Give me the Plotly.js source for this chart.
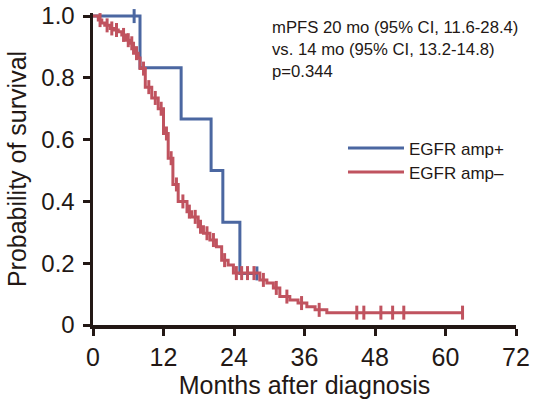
<!DOCTYPE html>
<html>
<head>
<meta charset="utf-8">
<script src="https://cdn.plot.ly/plotly-3.0.1.min.js"></script>
<style>html,body{margin:0;padding:0;background:#fff;}#chart{width:537px;height:406px;}</style>
</head>
<body>
<div id="chart"></div>
<script>
// EGFR amp+ (blue) Kaplan-Meier steps
var ampPosTimes = [0, 8.0, 15.0, 20.1, 22.1, 25.0];
var ampPosSurv  = [1.0, 0.833, 0.667, 0.5, 0.333, 0.167];
var ampPosEnd   = 27.9;
var ampPosCensor = [7.0, 27.9];

// EGFR amp- (red) Kaplan-Meier steps
var ampNegTimes = [0, 0.9, 1.5, 2.0, 2.9, 3.5, 4.3, 4.9, 5.7, 6.3, 6.9, 7.7, 8.0, 8.9, 10.0, 11.1, 12.0, 12.8, 13.6, 14.5, 16.0, 16.8, 17.9, 18.8, 19.9, 21.0, 21.9, 23.0, 23.9, 28.4, 29.6, 30.7, 31.8, 33.5, 34.9, 36.4, 37.8, 39.8];
var ampNegSurv  = [1.0, 0.987, 0.978, 0.97, 0.96, 0.955, 0.949, 0.939, 0.922, 0.912, 0.88, 0.864, 0.83, 0.77, 0.735, 0.70, 0.62, 0.54, 0.455, 0.40, 0.367, 0.35, 0.318, 0.297, 0.275, 0.253, 0.21, 0.194, 0.168, 0.146, 0.136, 0.12, 0.092, 0.081, 0.071, 0.059, 0.049, 0.04];
var ampNegEnd   = 63.0;
var ampNegCensor = [1.2, 2.4, 3.2, 4.0, 5.2, 6.0, 6.6, 7.4, 8.6, 9.5, 10.6, 11.6, 12.5, 13.3, 14.2, 15.3, 16.4, 17.4, 18.3, 19.4, 20.5, 22.4, 24.4, 25.3, 26.3, 27.4, 29.0, 31.2, 33.0, 35.5, 38.5, 44.9, 46.1, 49.0, 51.0, 52.9, 62.9];

var xTicks = [0, 12, 24, 36, 48, 60, 72];
var yTicks = [0, 0.2, 0.4, 0.6, 0.8, 1.0];
var yTickText = ['0', '0.2', '0.4', '0.6', '0.8', '1.0'];
var seriesNames = ['EGFR amp+', 'EGFR amp\u2013'];
var annotationLines = ['mPFS 20 mo (95% CI, 11.6-28.4)', 'vs. 14 mo (95% CI, 13.2-14.8)', 'p=0.344'];

var BLUE = '#4b67a1', RED = '#c0535f', AXIS = '#231815', TXT = '#231815';
var FONT = '"Liberation Sans", Arial, sans-serif';

function stepAt(times, surv, t) {
  var s = surv[0];
  for (var i = 0; i < times.length; i++) { if (times[i] <= t) s = surv[i]; }
  return s;
}

function kmTraces(times, surv, end, censor, color, name, legendId) {
  var xs = times.concat([end]);
  var ys = surv.concat([surv[surv.length - 1]]);
  var line = {x: xs, y: ys, mode: 'lines', line: {shape: 'hv', color: color, width: 3}, name: name,
    type: 'scatter', cliponaxis: false, legend: legendId};
  var cy = censor.map(function (t) { return stepAt(times, surv, t); });
  var marks = {x: censor, y: cy, mode: 'markers', type: 'scatter', showlegend: false, cliponaxis: false,
    marker: {symbol: 'line-ns-open', size: 10, color: color, line: {color: color, width: 3}}};
  return [line, marks];
}

var data = [].concat(
  kmTraces(ampPosTimes, ampPosSurv, ampPosEnd, ampPosCensor, BLUE, seriesNames[0], 'legend'),
  kmTraces(ampNegTimes, ampNegSurv, ampNegEnd, ampNegCensor, RED, seriesNames[1], 'legend2')
);

var annY = [0.952, 0.883, 0.813];
var annotations = annotationLines.map(function (t, i) {
  return {text: t, xref: 'paper', yref: 'paper', x: 0.421, y: annY[i], xanchor: 'left', yanchor: 'middle',
    showarrow: false, borderpad: 0, font: {family: FONT, size: 16.7, color: TXT}};
});

function legendCfg(y) {
  return {x: 0.591, y: y, xanchor: 'left', yanchor: 'middle', bgcolor: 'rgba(0,0,0,0)', borderwidth: 0,
    font: {family: FONT, size: 17, color: TXT}, itemwidth: 56};
}

var layout = {
  width: 537, height: 406,
  margin: {l: 93, r: 21, t: 13, b: 81, pad: 0, autoexpand: false},
  paper_bgcolor: '#fff', plot_bgcolor: '#fff',
  font: {family: FONT, color: TXT},
  showlegend: true,
  legend: legendCfg(0.566),
  legend2: legendCfg(0.489),
  xaxis: {range: [0, 72], tickvals: xTicks, ticktext: xTicks.map(String), showgrid: false, zeroline: false,
    automargin: false,
    showline: true, linecolor: AXIS, linewidth: 3.5, ticks: 'outside', ticklen: 7, tickwidth: 3, tickcolor: AXIS,
    tickfont: {family: FONT, size: 25, color: TXT},
    title: {text: 'Months after diagnosis', font: {family: FONT, size: 25, color: TXT}, standoff: 4}},
  yaxis: {range: [0, 1.01], tickvals: yTicks, ticktext: yTickText, showgrid: false, zeroline: false,
    automargin: false,
    showline: true, linecolor: AXIS, linewidth: 3.5, ticks: 'outside', ticklen: 7, tickwidth: 3, tickcolor: AXIS,
    ticklabelstandoff: 3,
    tickfont: {family: FONT, size: 24, color: TXT},
    title: {text: 'Probability of survival', font: {family: FONT, size: 25, color: TXT}, standoff: 8}},
  annotations: annotations
};

Plotly.newPlot('chart', data, layout, {displayModeBar: false, staticPlot: true});
</script>
</body>
</html>
